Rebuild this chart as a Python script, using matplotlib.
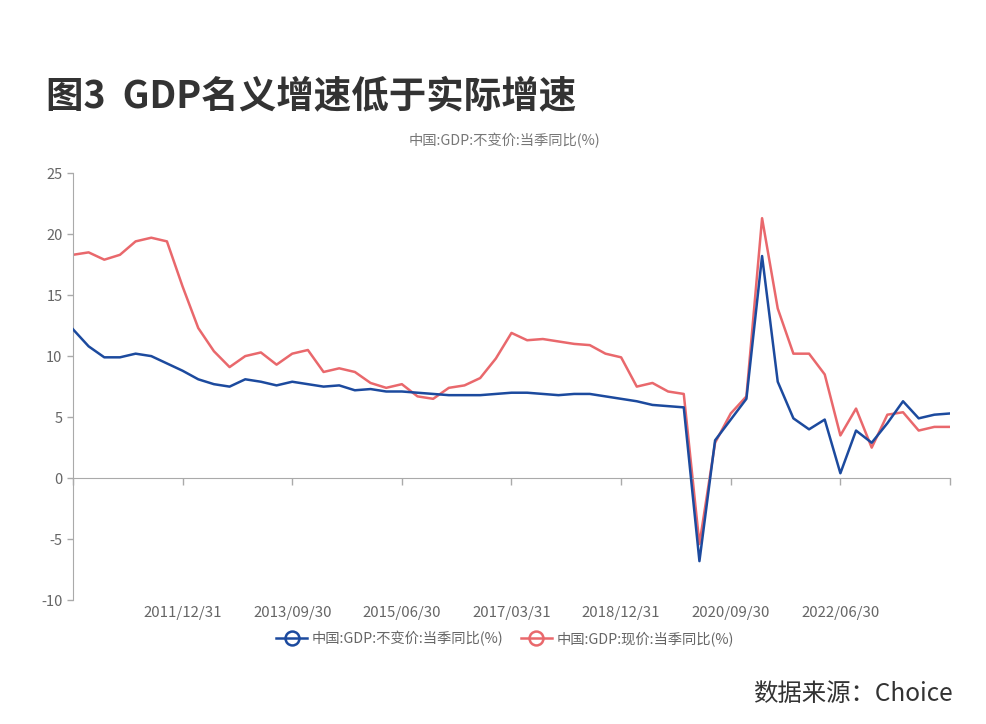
import matplotlib
matplotlib.use("Agg")
import matplotlib.pyplot as plt
from matplotlib.lines import Line2D

plt.rcParams['font.family'] = ['Noto Sans CJK SC', 'DejaVu Sans']
plt.rcParams['axes.unicode_minus'] = False

# quarterly data, 2010Q1 .. 2024Q1
quarters = []
for yr in range(2010, 2025):
    for md in ['03/31', '06/30', '09/30', '12/31']:
        quarters.append(f"{yr}/{md}")
quarters = quarters[:57]

real_gdp = [12.2, 10.8, 9.9, 9.9, 10.2, 10.0, 9.4, 8.8, 8.1, 7.7, 7.5, 8.1,
            7.9, 7.6, 7.9, 7.7, 7.5, 7.6, 7.2, 7.3, 7.1, 7.1, 7.0, 6.9,
            6.8, 6.8, 6.8, 6.9, 7.0, 7.0, 6.9, 6.8, 6.9, 6.9, 6.7, 6.5,
            6.3, 6.0, 5.9, 5.8, -6.8, 3.1, 4.8, 6.5, 18.2, 7.9, 4.9, 4.0,
            4.8, 0.4, 3.9, 2.9, 4.5, 6.3, 4.9, 5.2, 5.3]
nominal_gdp = [18.3, 18.5, 17.9, 18.3, 19.4, 19.7, 19.4, 15.7, 12.3, 10.4, 9.1, 10.0,
               10.3, 9.3, 10.2, 10.5, 8.7, 9.0, 8.7, 7.8, 7.4, 7.7, 6.7, 6.5,
               7.4, 7.6, 8.2, 9.8, 11.9, 11.3, 11.4, 11.2, 11.0, 10.9, 10.2, 9.9,
               7.5, 7.8, 7.1, 6.9, -5.4, 2.9, 5.3, 6.7, 21.3, 13.9, 10.2, 10.2,
               8.5, 3.5, 5.7, 2.5, 5.2, 5.4, 3.9, 4.2, 4.2]

label_real = '中国:GDP:不变价:当季同比(%)'
label_nominal = '中国:GDP:现价:当季同比(%)'
blue = '#1c4a9e'
red = '#e9686c'
grey = '#666666'

fig = plt.figure(figsize=(9.86, 7.24), dpi=100)
ax = fig.add_axes([0.074, 0.171, 0.8895, 0.59])

x = list(range(len(quarters)))
ax.plot(x, real_gdp, color=blue, lw=1.8, zorder=3)
ax.plot(x, nominal_gdp, color=red, lw=1.8, zorder=2)

ax.set_xlim(0, len(quarters) - 1)
ax.set_ylim(-10, 25)
ax.set_yticks(range(-10, 30, 5))
ax.tick_params(axis='y', colors='#aaaaaa', labelcolor=grey, labelsize=10.5, length=4, width=1)

for s in ['top', 'right']:
    ax.spines[s].set_visible(False)
ax.spines['left'].set_color('#aaaaaa')
ax.spines['bottom'].set_color('#aaaaaa')
ax.spines['bottom'].set_position(('data', 0))

tick_pos = x[::7]
ax.set_xticks(tick_pos)
ax.set_xticklabels([])
ax.tick_params(axis='x', colors='#aaaaaa', length=5, width=1)

sec = ax.secondary_xaxis('bottom')
sec.set_xticks(tick_pos[1:-1])
sec.set_xticklabels([quarters[i] for i in tick_pos[1:-1]])
sec.tick_params(length=0, labelsize=10.8, labelcolor=grey, pad=4)
sec.spines['bottom'].set_visible(False)

fig.text(0.512, 0.806, label_real, ha='center', va='center', fontsize=10.3, color='#777777')
fig.text(0.047, 0.868, '图3  GDP名义增速低于实际增速', ha='left', va='center',
         fontsize=27, fontweight='bold', color='#333333')
fig.text(0.966, 0.042, '数据来源：Choice', ha='right', va='center', fontsize=17.6, color='#333333')

handles = [Line2D([], [], color=blue, lw=1.8, marker='o', markersize=10,
                  markerfacecolor='none', markeredgewidth=1.8),
           Line2D([], [], color=red, lw=1.8, marker='o', markersize=10,
                  markerfacecolor='none', markeredgewidth=1.8)]
fig.legend(handles, [label_real, label_nominal], loc='center', bbox_to_anchor=(0.512, 0.118),
           ncol=2, frameon=False, fontsize=10.3, labelcolor=grey, handlelength=2.2,
           handletextpad=0.3, columnspacing=1.2)

fig.savefig('out.png', dpi=100)
